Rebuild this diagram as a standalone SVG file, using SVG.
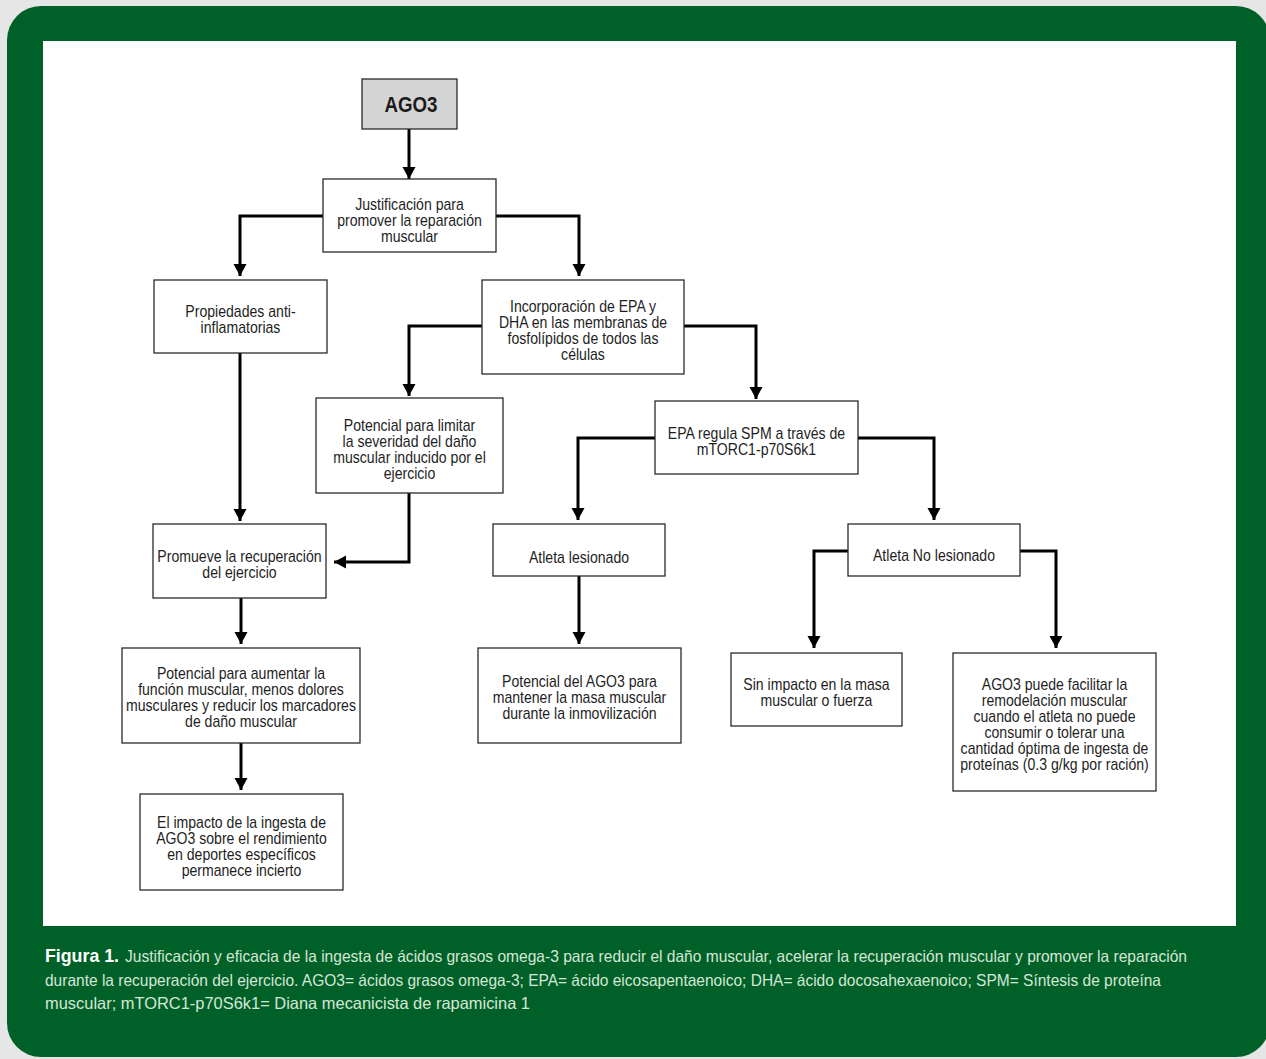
<svg xmlns="http://www.w3.org/2000/svg" width="1266" height="1059" viewBox="0 0 1266 1059">
<defs>
<marker id="ah" markerUnits="userSpaceOnUse" markerWidth="14" markerHeight="14" viewBox="0 0 14 14" refX="12.5" refY="7" orient="auto">
<path d="M0.5,0.5 L12.5,7 L0.5,13.5 Z" fill="#000"/>
</marker>
<style>
.box{fill:#fff;stroke:#2a2a2a;stroke-width:1.3}
.t{font-family:"Liberation Sans",Arial,sans-serif;font-size:16px;fill:#1e1e1e;text-anchor:middle}
.c{fill:none;stroke:#000;stroke-width:3;marker-end:url(#ah)}
.cap{font-family:"Liberation Sans",Arial,sans-serif;font-size:16.5px;fill:#d6e6d6}
</style>
</defs>
<rect x="0" y="0" width="1266" height="1059" fill="#e6e6e6"/>
<rect x="7" y="6" width="1263" height="1051" rx="34" ry="34" fill="#006128"/>
<rect x="43" y="41" width="1193" height="885" fill="#fff"/>

<g id="connectors">
<path class="c" d="M409,129 V179"/>
<path class="c" d="M323,216 H240 V276"/>
<path class="c" d="M496,216 H579 V276"/>
<path class="c" d="M482,326 H409 V396"/>
<path class="c" d="M684,326 H756 V399"/>
<path class="c" d="M240,353 V521"/>
<path class="c" d="M409,493 V562 H334"/>
<path class="c" d="M655,438 H578 V520"/>
<path class="c" d="M858,438 H934 V520"/>
<path class="c" d="M241,598 V644"/>
<path class="c" d="M579,576 V644"/>
<path class="c" d="M848,551 H814 V648"/>
<path class="c" d="M1020,551 H1056 V648"/>
<path class="c" d="M241,743 V790"/>
</g>

<g id="ago3">
<rect x="362" y="79" width="95" height="50" fill="#d4d4d4" stroke="#2a2a2a" stroke-width="1.3"/>
<text x="411" y="112" transform="matrix(0.85 0 0 1 61.65 0)" style="font-family:'Liberation Sans',Arial,sans-serif;font-size:22px;font-weight:bold;fill:#1a1a1a;text-anchor:middle">AGO3</text>
</g>
<g id="justificacion">
<rect class="box" x="323" y="179" width="173" height="73"/>
<g transform="matrix(0.88 0 0 1 49.14 0)">
<text class="t" x="409.5" y="210.5">Justificación para</text>
<text class="t" x="409.5" y="226.5">promover la reparación</text>
<text class="t" x="409.5" y="242.5">muscular</text>
</g>
</g>
<g id="propiedades">
<rect class="box" x="154" y="280" width="173" height="73"/>
<g transform="matrix(0.88 0 0 1 28.86 0)">
<text class="t" x="240.5" y="317">Propiedades anti-</text>
<text class="t" x="240.5" y="333">inflamatorias</text>
</g>
</g>
<g id="incorporacion">
<rect class="box" x="482" y="280" width="202" height="94"/>
<g transform="matrix(0.88 0 0 1 69.96 0)">
<text class="t" x="583" y="312">Incorporación de EPA y</text>
<text class="t" x="583" y="328">DHA en las membranas de</text>
<text class="t" x="583" y="344">fosfolípidos de todos las</text>
<text class="t" x="583" y="360">células</text>
</g>
</g>
<g id="limitar">
<rect class="box" x="316" y="398" width="187" height="95"/>
<g transform="matrix(0.88 0 0 1 49.14 0)">
<text class="t" x="409.5" y="431">Potencial para limitar</text>
<text class="t" x="409.5" y="447">la severidad del daño</text>
<text class="t" x="409.5" y="463">muscular inducido por el</text>
<text class="t" x="409.5" y="479">ejercicio</text>
</g>
</g>
<g id="epa">
<rect class="box" x="655" y="401" width="203" height="73"/>
<g transform="matrix(0.88 0 0 1 90.78 0)">
<text class="t" x="756.5" y="439">EPA regula SPM a través de</text>
<text class="t" x="756.5" y="455">mTORC1-p70S6k1</text>
</g>
</g>
<g id="promueve">
<rect class="box" x="153" y="524" width="173" height="74"/>
<g transform="matrix(0.88 0 0 1 28.74 0)">
<text class="t" x="239.5" y="562">Promueve la recuperación</text>
<text class="t" x="239.5" y="578">del ejercicio</text>
</g>
</g>
<g id="lesionado">
<rect class="box" x="493" y="524" width="172" height="52"/>
<g transform="matrix(0.88 0 0 1 69.48 0)">
<text class="t" x="579" y="563">Atleta lesionado</text>
</g>
</g>
<g id="nolesionado">
<rect class="box" x="848" y="524" width="172" height="52"/>
<g transform="matrix(0.88 0 0 1 112.08 0)">
<text class="t" x="934" y="561">Atleta No lesionado</text>
</g>
</g>
<g id="aumentar">
<rect class="box" x="122" y="648" width="238" height="95"/>
<g transform="matrix(0.88 0 0 1 28.92 0)">
<text class="t" x="241" y="679">Potencial para aumentar la</text>
<text class="t" x="241" y="695">función muscular, menos dolores</text>
<text class="t" x="241" y="711">musculares y reducir los marcadores</text>
<text class="t" x="241" y="727">de daño muscular</text>
</g>
</g>
<g id="masa">
<rect class="box" x="478" y="648" width="203" height="95"/>
<g transform="matrix(0.88 0 0 1 69.54 0)">
<text class="t" x="579.5" y="687">Potencial del AGO3 para</text>
<text class="t" x="579.5" y="703">mantener la masa muscular</text>
<text class="t" x="579.5" y="719">durante la inmovilización</text>
</g>
</g>
<g id="sinimpacto">
<rect class="box" x="731" y="653" width="171" height="73"/>
<g transform="matrix(0.88 0 0 1 97.98 0)">
<text class="t" x="816.5" y="690">Sin impacto en la masa</text>
<text class="t" x="816.5" y="706">muscular o fuerza</text>
</g>
</g>
<g id="facilitar">
<rect class="box" x="953" y="653" width="203" height="138"/>
<g transform="matrix(0.88 0 0 1 126.54 0)">
<text class="t" x="1054.5" y="690">AGO3 puede facilitar la</text>
<text class="t" x="1054.5" y="706">remodelación muscular</text>
<text class="t" x="1054.5" y="722">cuando el atleta no puede</text>
<text class="t" x="1054.5" y="738">consumir o tolerar una</text>
<text class="t" x="1054.5" y="754">cantidad óptima de ingesta de</text>
<text class="t" x="1054.5" y="770">proteínas (0.3 g/kg por ración)</text>
</g>
</g>
<g id="impacto">
<rect class="box" x="140" y="794" width="203" height="96"/>
<g transform="matrix(0.88 0 0 1 28.98 0)">
<text class="t" x="241.5" y="828">El impacto de la ingesta de</text>
<text class="t" x="241.5" y="844">AGO3 sobre el rendimiento</text>
<text class="t" x="241.5" y="860">en deportes específicos</text>
<text class="t" x="241.5" y="876">permanece incierto</text>
</g>
</g>

<g id="caption">
<text x="45" y="962" textLength="74" lengthAdjust="spacingAndGlyphs" style="font-family:'Liberation Sans',Arial,sans-serif;font-weight:bold;font-size:18.5px;fill:#ffffff">Figura 1.</text>
<text class="cap" x="125" y="962" textLength="1062" lengthAdjust="spacingAndGlyphs">Justificación y eficacia de la ingesta de ácidos grasos omega-3 para reducir el daño muscular, acelerar la recuperación muscular y promover la reparación</text>
<text class="cap" x="45" y="986" textLength="1116" lengthAdjust="spacingAndGlyphs">durante la recuperación del ejercicio. AGO3= ácidos grasos omega-3; EPA= ácido eicosapentaenoico; DHA= ácido docosahexaenoico; SPM= Síntesis de proteína</text>
<text class="cap" x="45" y="1009" textLength="485" lengthAdjust="spacingAndGlyphs">muscular; mTORC1-p70S6k1= Diana mecanicista de rapamicina 1</text>
</g>
</svg>
